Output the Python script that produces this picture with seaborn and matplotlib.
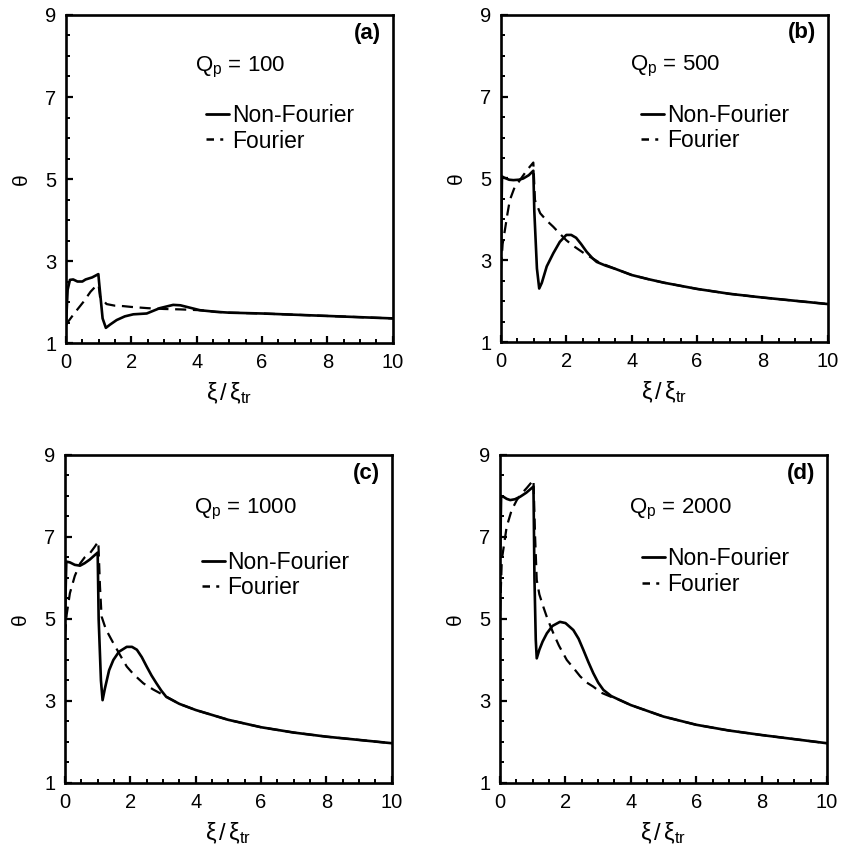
import pandas as pd
import seaborn as sns
import matplotlib.pyplot as plt
from matplotlib.lines import Line2D
from matplotlib.ticker import MultipleLocator

# panel (a): Qp = 100
a_nf_x = [0, 0.05, 0.12, 0.22, 0.35, 0.5, 0.6, 0.8, 0.99, 1.01, 1.12, 1.22, 1.35, 1.55, 1.8, 2.06, 2.47,
          2.87, 3.28, 3.5, 3.7, 4.1, 4.6, 5, 6, 7, 8, 9, 10]
a_nf_y = [1.44, 2.3, 2.54, 2.55, 2.5, 2.5, 2.55, 2.6, 2.68, 2.5, 1.6, 1.37, 1.45, 1.56, 1.65, 1.70, 1.72,
          1.85, 1.93, 1.92, 1.88, 1.80, 1.76, 1.74, 1.72, 1.69, 1.66, 1.63, 1.60]
a_f_x = [0, 0.25, 0.53, 0.75, 0.95, 1.0, 1.04, 1.24, 1.5, 1.75, 2.0, 2.5, 3.0, 3.5, 4.1, 4.6, 5, 6, 7, 8, 9, 10]
a_f_y = [1.45, 1.72, 2.0, 2.25, 2.42, 2.4, 2.13, 1.95, 1.91, 1.90, 1.88, 1.85, 1.83, 1.82, 1.80, 1.76, 1.74,
         1.72, 1.69, 1.66, 1.63, 1.60]

# panel (b): Qp = 500
b_nf_x = [0, 0.03, 0.1, 0.25, 0.38, 0.55, 0.68, 0.85, 0.99, 1.02, 1.1, 1.17, 1.25, 1.4, 1.6, 1.8, 2.0, 2.15,
          2.3, 2.45, 2.62, 2.8, 2.93, 3.2, 3.5, 4.0, 4.5, 5, 6, 7, 8, 9, 10]
b_nf_y = [3.2, 5.05, 5.02, 4.97, 4.96, 4.97, 5.0, 5.08, 5.19, 4.2, 2.8, 2.31, 2.45, 2.85, 3.17, 3.45, 3.62, 3.62,
          3.55, 3.4, 3.21, 3.05, 2.96, 2.87, 2.79, 2.64, 2.54, 2.45, 2.30, 2.18, 2.09, 2.01, 1.93]
b_f_x = [0, 0.05, 0.12, 0.2, 0.27, 0.4, 0.58, 0.79, 0.99, 1.04, 1.2, 1.4, 1.6, 1.8, 2.0, 2.2, 2.4, 2.6, 2.8,
         3.0, 3.5, 4.0, 4.5, 5, 6, 7, 8, 9, 10]
b_f_y = [2.8, 3.4, 3.74, 4.15, 4.47, 4.75, 4.96, 5.2, 5.39, 4.47, 4.15, 3.97, 3.82, 3.65, 3.49, 3.36, 3.25,
         3.14, 3.05, 2.95, 2.79, 2.64, 2.54, 2.45, 2.30, 2.18, 2.09, 2.01, 1.93]

# panel (c): Qp = 1000
c_nf_x = [0, 0.04, 0.15, 0.3, 0.46, 0.6, 0.76, 0.9, 1.0, 1.03, 1.1, 1.15, 1.22, 1.35, 1.48, 1.65, 1.89, 2.05,
          2.2, 2.35, 2.5, 2.65, 2.8, 2.95, 3.1, 3.5, 4.0, 5, 6, 7, 8, 9, 10]
c_nf_y = [5.0, 6.4, 6.38, 6.32, 6.3, 6.36, 6.45, 6.55, 6.62, 5.0, 3.5, 3.02, 3.3, 3.75, 4.0, 4.2, 4.32, 4.32,
          4.25, 4.07, 3.84, 3.62, 3.43, 3.25, 3.1, 2.93, 2.78, 2.54, 2.36, 2.23, 2.13, 2.05, 1.97]
c_f_x = [0, 0.05, 0.15, 0.3, 0.46, 0.6, 0.76, 0.9, 1.02, 1.07, 1.12, 1.25, 1.48, 1.7, 1.89, 2.1, 2.4, 2.7, 3.0,
         3.5, 4.0, 5, 6, 7, 8, 9, 10]
c_f_y = [4.6, 5.1, 5.63, 6.05, 6.35, 6.5, 6.6, 6.75, 6.89, 5.8, 5.06, 4.75, 4.41, 4.1, 3.84, 3.65, 3.43, 3.28,
         3.15, 2.93, 2.78, 2.54, 2.36, 2.23, 2.13, 2.05, 1.97]

# panel (d): Qp = 2000
d_nf_x = [0, 0.03, 0.1, 0.2, 0.31, 0.45, 0.61, 0.8, 1.02, 1.05, 1.09, 1.12, 1.2, 1.3, 1.43, 1.6, 1.83, 2.0,
          2.24, 2.4, 2.55, 2.7, 2.85, 3.0, 3.16, 3.4, 3.67, 4.0, 5, 6, 7, 8, 9, 10]
d_nf_y = [6.5, 8.0, 7.98, 7.93, 7.9, 7.92, 7.98, 8.08, 8.23, 6.0, 4.5, 4.04, 4.25, 4.45, 4.65, 4.83, 4.93, 4.9,
          4.73, 4.52, 4.24, 3.95, 3.68, 3.45, 3.27, 3.12, 3.02, 2.9, 2.62, 2.42, 2.28, 2.17, 2.07, 1.97]
d_f_x = [0, 0.05, 0.2, 0.35, 0.51, 0.65, 0.82, 1.02, 1.07, 1.12, 1.2, 1.32, 1.45, 1.63, 1.8, 2.04, 2.25, 2.45,
         2.65, 2.85, 3.1, 3.4, 3.67, 4.0, 5, 6, 7, 8, 9, 10]
d_f_y = [5.2, 6.44, 7.25, 7.65, 7.9, 8.05, 8.2, 8.39, 7.0, 5.95, 5.6, 5.3, 5.0, 4.65, 4.35, 4.0, 3.8, 3.6,
         3.45, 3.35, 3.2, 3.1, 3.02, 2.9, 2.62, 2.42, 2.28, 2.17, 2.07, 1.97]

panel_tags = ['(a)', '(b)', '(c)', '(d)']
qp_values = ['100', '500', '1000', '2000']

sns.set_style("ticks")
plt.rcParams['font.family'] = ['Liberation Sans', 'DejaVu Sans']
plt.rcParams['mathtext.fontset'] = 'custom'
plt.rcParams['mathtext.rm'] = 'Liberation Sans'
plt.rcParams['mathtext.it'] = 'Liberation Sans'
for k in ['text.color', 'axes.labelcolor', 'xtick.color', 'ytick.color', 'axes.edgecolor']:
    plt.rcParams[k] = 'black'

fig = plt.figure(figsize=(8.42, 8.52), dpi=100)
boxes = [[0.0784, 0.5974, 0.388, 0.385],
         [0.595, 0.5985, 0.388, 0.384],
         [0.0772, 0.081, 0.388, 0.385],
         [0.594, 0.081, 0.388, 0.385]]
series = [(a_nf_x, a_nf_y, a_f_x, a_f_y),
          (b_nf_x, b_nf_y, b_f_x, b_f_y),
          (c_nf_x, c_nf_y, c_f_x, c_f_y),
          (d_nf_x, d_nf_y, d_f_x, d_f_y)]
# text placement (axes fraction)
qp_y = [0.841, 0.841, 0.833, 0.833]
leg_y = [0.728, 0.728, 0.708, 0.718]
leg_x = [0.43, 0.43, 0.42, 0.435]

for i in range(4):
    ax = fig.add_axes(boxes[i])
    nx, ny, fx, fy = series[i]
    df_nf = pd.DataFrame({'x': nx, 'y': ny})
    df_f = pd.DataFrame({'x': fx, 'y': fy})
    sns.lineplot(data=df_f, x='x', y='y', ax=ax, color='black', lw=1.6,
                 estimator=None, sort=False)
    ax.lines[-1].set_dashes((5, 3))
    sns.lineplot(data=df_nf, x='x', y='y', ax=ax, color='black', lw=1.9,
                 estimator=None, sort=False)

    ax.set_xlim(0, 10)
    ax.set_ylim(1, 9)
    ax.xaxis.set_major_locator(MultipleLocator(2))
    ax.xaxis.set_minor_locator(MultipleLocator(0.5))
    ax.yaxis.set_minor_locator(MultipleLocator(0.5))
    ax.set_yticks([1, 3, 5, 7, 9])
    ax.tick_params(which='major', direction='in', length=5, width=1.6, labelsize=14.5, pad=7)
    ax.tick_params(which='minor', direction='in', length=3, width=1.4)
    for s in ax.spines.values():
        s.set_linewidth(1.9)
        s.set_visible(True)

    ax.set_xlabel(r'$\xi\,/\,\xi_{\mathrm{tr}}$', fontsize=17, labelpad=6)
    ax.set_ylabel('θ', fontsize=15, labelpad=10)

    ax.text(0.965, 0.945, panel_tags[i], transform=ax.transAxes, ha='right', va='center',
            fontsize=16, fontweight='bold')
    ax.text(0.395, qp_y[i], r'Q$_\mathrm{p}$ = ' + qp_values[i], transform=ax.transAxes,
            ha='left', va='center', fontsize=16)
    handles = [Line2D([], [], color='black', lw=2.0),
               Line2D([], [], color='black', lw=1.8, dashes=(3, 2.5, 1.2, 2.5))]
    ax.legend(handles, ['Non-Fourier', 'Fourier'], loc='upper left',
              bbox_to_anchor=(leg_x[i], leg_y[i]), frameon=False, fontsize=16.5,
              handlelength=1.0, handletextpad=0.1, labelspacing=0.1,
              borderpad=0, borderaxespad=0)

fig.savefig('out.png', dpi=100)
